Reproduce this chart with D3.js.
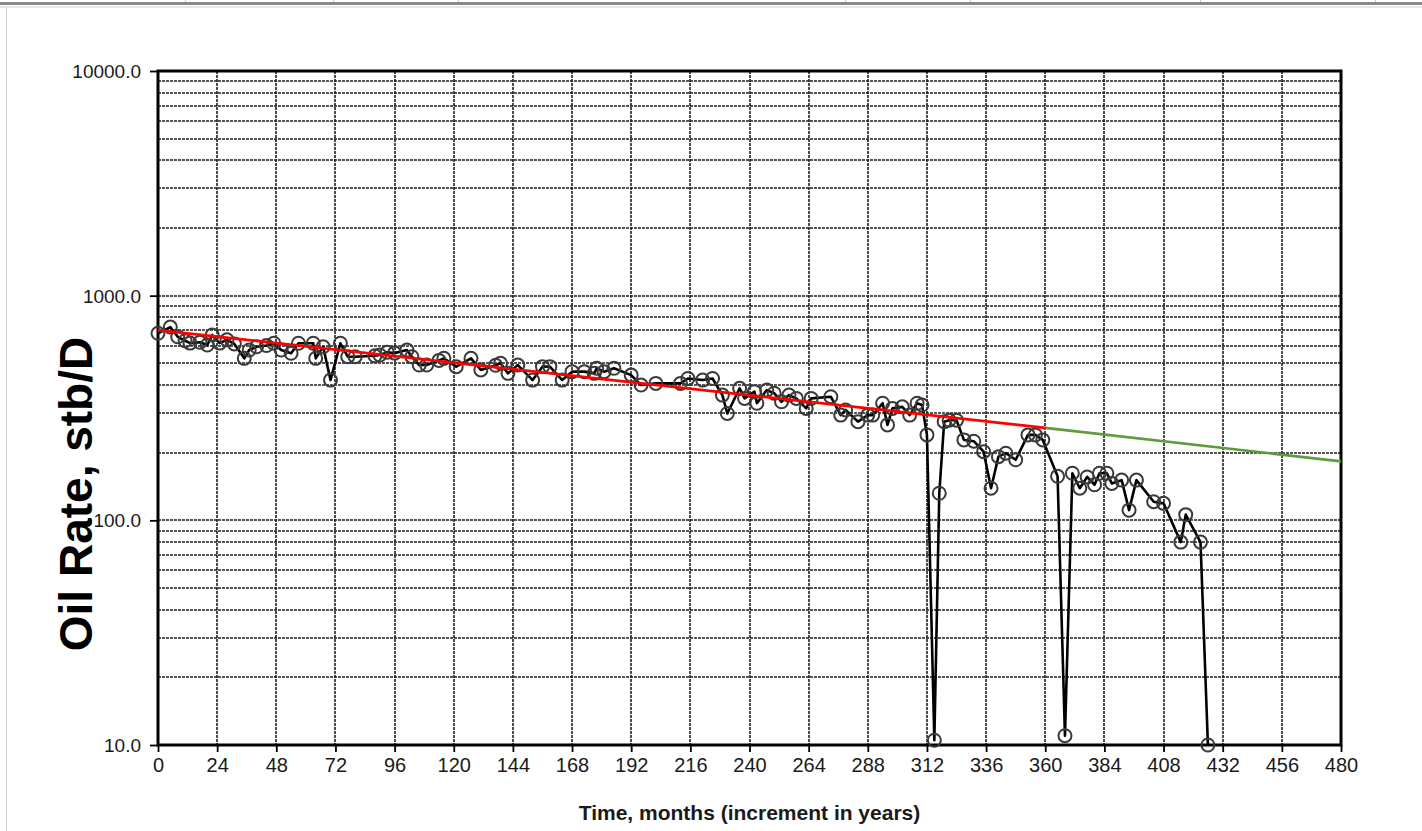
<!DOCTYPE html>
<html>
<head>
<meta charset="utf-8">
<script src="https://cdn.jsdelivr.net/npm/d3@7"></script>
<style>
  body { margin: 0; background: #fff; }
  svg { display: block; }
</style>
</head>
<body>
<div id="viz"></div>
<script>
// measured oil rate, months vs stb/D
var months = [0, 5, 8, 11, 13, 17, 20, 22, 25, 28, 31, 35, 37, 40, 44, 47, 50, 54, 57, 63,
  64, 67, 70, 74, 77, 80, 88, 90, 93, 96, 101, 103, 106, 109, 114, 116, 121, 127, 131, 137,
  139, 142, 146, 152, 156, 159, 164, 168, 173, 177, 178, 181, 185, 192, 196, 202, 212, 215, 221, 225,
  229, 231, 236, 238, 242, 243, 247, 250, 253, 256, 259, 263, 265, 273, 277, 279, 284, 288, 290, 294,
  296, 298, 302, 305, 308, 310, 312, 315, 317, 319, 321, 324, 327, 331, 335, 338, 341, 344, 348, 353,
  356, 359, 365, 368, 371, 374, 377, 380, 382, 385, 387, 391, 394, 397, 404, 408, 415, 417, 423, 426]
var rates = [680, 725, 656, 630, 615, 620, 603, 668, 615, 636, 610, 526, 573, 592, 600, 614, 573, 554, 614, 614,
  526, 592, 421, 614, 535, 535, 540, 544, 560, 555, 573, 535, 491, 491, 515, 526, 483, 526, 467, 490,
  500, 451, 491, 421, 483, 483, 421, 459, 459, 451, 475, 459, 475, 443, 400, 407, 407, 428, 421, 428,
  361, 299, 387, 349, 374, 332, 380, 368, 337, 361, 349, 315, 349, 355, 294, 310, 275, 294, 294, 332,
  266, 315, 320, 294, 332, 326, 240, 10.5, 132, 275, 279, 279, 228, 225, 202, 139, 192, 199, 186, 240,
  240, 228, 157, 11, 162, 139, 156, 144, 162, 162, 146, 151, 111, 151, 121, 119, 80, 106, 80, 10]

// exponential decline fit (straight on semi-log) and its forecast
var fitMonths = [0, 360]
var fitRates = [703, 258]
var forecastMonths = [360, 480]
var forecastRates = [258, 183]

var xTicks = d3.range(0, 481, 24)
var yTicks = [10, 100, 1000, 10000]

var W = 1422, H = 831
var margin = { top: 71, right: 81, bottom: 86, left: 158 }
var width = W - margin.left - margin.right,
  height = H - margin.top - margin.bottom

var svg = d3.select('#viz').append('svg')
  .attr('width', W)
  .attr('height', H)

// spreadsheet frame around the picture
svg.append('rect').attr('x', 0).attr('y', 2).attr('width', W).attr('height', 3).attr('fill', '#8a8a8a')
svg.append('line').attr('x1', 0).attr('x2', W).attr('y1', 7).attr('y2', 7).attr('stroke', '#d0d0d0')
svg.append('line').attr('x1', 6.5).attr('x2', 6.5).attr('y1', 7).attr('y2', H).attr('stroke', '#d4d4d4')
;[185, 333, 458, 845, 970, 1200, 1375].forEach(function(px) {
  svg.append('line').attr('x1', px + 0.5).attr('x2', px + 0.5).attr('y1', 0).attr('y2', 2).attr('stroke', '#ccc')
})

var g = svg.append('g')
  .attr('transform', 'translate(' + margin.left + ',' + margin.top + ')')

var x = d3.scaleLinear().domain([0, 480]).range([0, width])
var y = d3.scaleLog().domain([10, 10000]).range([height, 0])

// horizontal grid: every 1..9 of each decade
var hGrid = []
;[10, 100, 1000].forEach(function(dec) {
  for (var k = 1; k <= 10; k++) hGrid.push(dec * k)
})
hGrid = Array.from(new Set(hGrid))

var gridStyle = function(sel) {
  sel.attr('stroke', '#1e1e1e')
    .attr('stroke-width', 1.6)
    .attr('stroke-dasharray', '3,1')
}

g.selectAll('.hgrid')
  .data(hGrid)
  .enter()
  .append('line')
  .attr('class', 'hgrid')
  .attr('x1', 0)
  .attr('x2', width)
  .attr('y1', function(d) { return Math.round(y(d)) })
  .attr('y2', function(d) { return Math.round(y(d)) })
  .call(gridStyle)

g.selectAll('.vgrid')
  .data(xTicks)
  .enter()
  .append('line')
  .attr('class', 'vgrid')
  .attr('x1', function(d) { return Math.round(x(d)) })
  .attr('x2', function(d) { return Math.round(x(d)) })
  .attr('y1', 0)
  .attr('y2', height)
  .call(gridStyle)

// plot border
g.append('rect')
  .attr('width', width)
  .attr('height', height)
  .attr('fill', 'none')
  .attr('stroke', '#000')
  .attr('stroke-width', 3)

// axes
var xAxis = g.append('g')
  .attr('transform', 'translate(0,' + height + ')')
  .call(d3.axisBottom(x).tickValues(xTicks).tickSize(7).tickPadding(6).tickFormat(d3.format('d')))
var yAxis = g.append('g')
  .call(d3.axisLeft(y).tickValues(yTicks).tickSize(8).tickPadding(9).tickFormat(d3.format('.1f')))

;[xAxis, yAxis].forEach(function(ax) {
  ax.select('.domain').remove()
  ax.selectAll('line').attr('stroke', '#000').attr('stroke-width', 1.8)
  ax.selectAll('text')
    .attr('fill', '#1a1a1a')
    .style('font-family', 'Arial, "Liberation Sans", sans-serif')
    .style('font-size', '20px')
})
yAxis.selectAll('text').attr('dy', '0.35em').style('font-size', '19px')

// fitted decline (red) and forecast (green)
var lineFn = d3.line()
  .x(function(d) { return x(d[0]) })
  .y(function(d) { return y(d[1]) })

g.append('path')
  .datum(d3.zip(forecastMonths, forecastRates))
  .attr('d', lineFn)
  .attr('fill', 'none')
  .attr('stroke', '#5f9a3c')
  .attr('stroke-width', 2.6)

// measured data
var pts = d3.zip(months, rates)

g.append('path')
  .datum(pts)
  .attr('d', lineFn)
  .attr('fill', 'none')
  .attr('stroke', '#000')
  .attr('stroke-width', 2.6)
  .attr('stroke-linejoin', 'round')

g.selectAll('.pt')
  .data(pts)
  .enter()
  .append('circle')
  .attr('class', 'pt')
  .attr('cx', function(d) { return x(d[0]) })
  .attr('cy', function(d) { return y(d[1]) })
  .attr('r', 6.5)
  .attr('fill', 'none')
  .attr('stroke', '#3a3a3a')
  .attr('stroke-width', 2)

g.append('path')
  .datum(d3.zip(fitMonths, fitRates))
  .attr('d', lineFn)
  .attr('fill', 'none')
  .attr('stroke', '#f00')
  .attr('stroke-width', 2.8)

// titles
svg.append('text')
  .attr('transform', 'translate(92,494) rotate(-90)')
  .attr('text-anchor', 'middle')
  .style('font-family', 'Arial, "Liberation Sans", sans-serif')
  .style('font-weight', 'bold')
  .style('font-size', '46px')
  .attr('fill', '#000')
  .text('Oil Rate, stb/D')

svg.append('text')
  .attr('x', margin.left + width / 2)
  .attr('y', 820)
  .attr('text-anchor', 'middle')
  .style('font-family', 'Arial, "Liberation Sans", sans-serif')
  .style('font-weight', 'bold')
  .style('font-size', '21px')
  .attr('fill', '#1a1a1a')
  .text('Time, months (increment in years)')
</script>
</body>
</html>
